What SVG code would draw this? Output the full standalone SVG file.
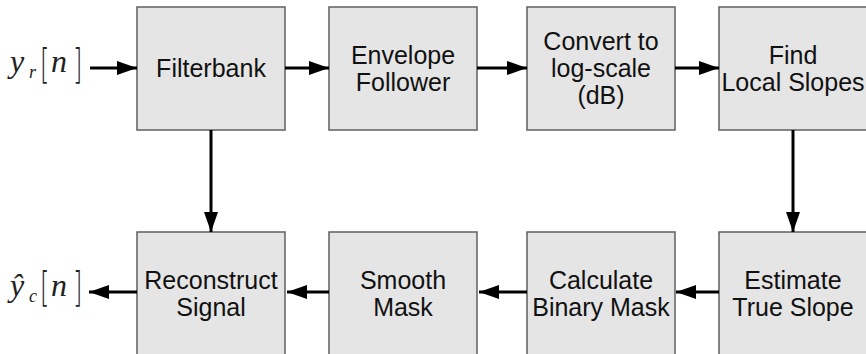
<svg xmlns="http://www.w3.org/2000/svg" width="866" height="354" viewBox="0 0 866 354">
<style>
.box{fill:#e5e5e5;stroke:#5f5f5f;stroke-width:1.5}
.lbl{font-family:"Liberation Sans",Arial,sans-serif;font-size:25px;fill:#111;text-anchor:middle}
.math{font-family:"Liberation Serif","Times New Roman",serif;font-style:italic;fill:#222}
.br{font-family:"DejaVu Sans","Liberation Sans",sans-serif;font-weight:200;font-size:40px;fill:#222}
.arr{stroke:#000;stroke-width:3;fill:none;marker-end:url(#ah)}
</style>
<defs>
<marker id="ah" markerUnits="userSpaceOnUse" markerWidth="20" markerHeight="14" refX="20" refY="7" orient="auto">
<path d="M0,0 L20,7 L0,14 Z" fill="#000"/>
</marker>
</defs>
<rect width="866" height="354" fill="#fff"/>
<g id="input-label">
<text class="math" x="10" y="72" font-size="32">y</text>
<text class="math" x="29" y="78" font-size="18">r</text>
<text class="br" transform="translate(40,77.5) scale(0.6,1)">[</text>
<text class="math" x="51" y="72" font-size="32">n</text>
<text class="br" transform="translate(73,77.5) scale(0.6,1)">]</text>
</g>
<g id="output-label">
<text class="math" x="10" y="296" font-size="32">ŷ</text>
<text class="math" x="29" y="302" font-size="18">c</text>
<text class="br" transform="translate(40,300.5) scale(0.6,1)">[</text>
<text class="math" x="51" y="296" font-size="32">n</text>
<text class="br" transform="translate(73,300.5) scale(0.6,1)">]</text>
</g>
<g id="filterbank"><rect class="box" x="137" y="7" width="148" height="123"/><text class="lbl" x="211" y="77">Filterbank</text></g>
<g id="envelope"><rect class="box" x="329" y="7" width="148" height="123"/><text class="lbl" x="403" y="63.5">Envelope</text><text class="lbl" x="403" y="90.5">Follower</text></g>
<g id="convert"><rect class="box" x="527" y="7" width="148" height="123"/><text class="lbl" x="601" y="50">Convert to</text><text class="lbl" x="601" y="77">log-scale</text><text class="lbl" x="601" y="104">(dB)</text></g>
<g id="find"><rect class="box" x="719" y="7" width="148" height="123"/><text class="lbl" x="793" y="63.5">Find</text><text class="lbl" x="793" y="90.5">Local Slopes</text></g>
<g id="reconstruct"><rect class="box" x="137" y="232" width="148" height="123"/><text class="lbl" x="211" y="288.5">Reconstruct</text><text class="lbl" x="211" y="315.5">Signal</text></g>
<g id="smooth"><rect class="box" x="329" y="232" width="148" height="123"/><text class="lbl" x="403" y="288.5">Smooth</text><text class="lbl" x="403" y="315.5">Mask</text></g>
<g id="calculate"><rect class="box" x="527" y="232" width="148" height="123"/><text class="lbl" x="601" y="288.5">Calculate</text><text class="lbl" x="601" y="315.5">Binary Mask</text></g>
<g id="estimate"><rect class="box" x="719" y="232" width="148" height="123"/><text class="lbl" x="793" y="288.5">Estimate</text><text class="lbl" x="793" y="315.5">True Slope</text></g>
<g id="connectors">
<line class="arr" x1="90" y1="68" x2="137" y2="68"/>
<line class="arr" x1="285" y1="68" x2="329" y2="68"/>
<line class="arr" x1="477" y1="68" x2="527" y2="68"/>
<line class="arr" x1="675" y1="68" x2="719" y2="68"/>
<line class="arr" x1="211" y1="130" x2="211" y2="232"/>
<line class="arr" x1="793" y1="130" x2="793" y2="232"/>
<line class="arr" x1="719" y1="292" x2="676" y2="292"/>
<line class="arr" x1="527" y1="292" x2="479" y2="292"/>
<line class="arr" x1="329" y1="292" x2="287" y2="292"/>
<line class="arr" x1="137" y1="292" x2="89" y2="292"/>
</g>
</svg>
